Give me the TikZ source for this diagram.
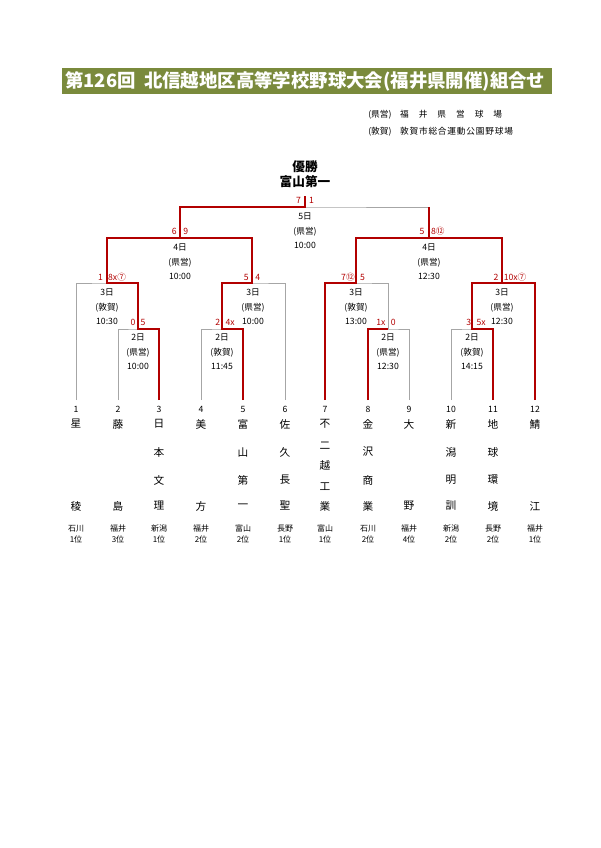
\documentclass[tikz,border=0pt]{standalone}
\usepackage{fontspec}
\setmainfont{Noto Sans CJK JP}
\begin{document}
\begin{tikzpicture}[x=0.75pt,y=-0.75pt,
  gl/.style={draw=gray!70,line width=0.5pt},
  rl/.style={draw=red!70!black,line width=1.8pt},
  sc/.style={text=red!70!black,font=\fontsize{6.5}{7}\selectfont,inner sep=0pt},
  info/.style={font=\fontsize{6.5}{7}\selectfont,inner sep=0pt},
  nm/.style={font=\fontsize{8}{8}\selectfont,inner sep=0pt},
  pf/.style={font=\fontsize{6}{7}\selectfont,inner sep=0pt,align=center}]
\useasboundingbox (0,0) rectangle (600,848);
\fill[fill={rgb,255:red,122;green,138;blue,60}] (62,68) rectangle (552,94);
\node[text=white,font=\bfseries\fontsize{13.8}{14}\selectfont,anchor=west,inner sep=0pt] (title) at (65,81) {第126回\ \ 北信越地区高等学校野球大会(福井県開催)組合せ};
\node[info,anchor=west] (v1) at (368,115) {(県営)\quad 福\hspace{7.5pt}井\hspace{7.5pt}県\hspace{7.5pt}営\hspace{7.5pt}球\hspace{7.5pt}場};
\node[info,anchor=west] (v2) at (368,132) {(敦賀)\quad 敦\hspace{0.6pt}賀\hspace{0.6pt}市\hspace{0.6pt}総\hspace{0.6pt}合\hspace{0.6pt}運\hspace{0.6pt}動\hspace{0.6pt}公\hspace{0.6pt}園\hspace{0.6pt}野\hspace{0.6pt}球\hspace{0.6pt}場};
\foreach \i/\x in {1/76,2/118,3/159,4/201,5/243,6/285,7/325,8/368,9/409,10/451,11/493,12/535}{
  \coordinate (L\i) at (\x,400);
  \node[info] (n\i) at (\x,409) {\i};
}
\coordinate (A) at (138,329); \coordinate (B) at (222,329);
\coordinate (C) at (388,329); \coordinate (D) at (472,329);
\coordinate (E) at (107,283); \coordinate (F) at (252,283);
\coordinate (G) at (356,283); \coordinate (H) at (502,283);
\coordinate (I) at (180,238); \coordinate (J) at (429,238);
\coordinate (K) at (305,207); \coordinate (T) at (305,196);
\draw[gl] (L2) |- (A) -- (A -| L3);
\draw[gl] (L4) |- (B) -- (B -| L5);
\draw[gl] (L9) |- (C) -- (C -| L8);
\draw[gl] (L10) |- (D) -- (D -| L11);
\draw[gl] (L1) |- (E) -- (E -| A);
\draw[gl] (L6) |- (F) -- (F -| B);
\draw[gl] (C) |- (G) -- (G -| L7);
\draw[gl] (D) |- (H) -- (H -| L12);
\draw[gl] (E) |- (I) -- (I -| F);
\draw[gl] (G) |- (J) -- (J -| H);
\draw[gl] (I) |- (K) -- (K -| J);
\draw[rl] (L3) |- (A) |- (E) |- (I);
\draw[rl] (L5) |- (B) |- (F) |- (I) |- (K) -- (T);
\draw[rl] (L8) |- (C);
\draw[rl] (L7) |- (G) |- (J);
\draw[rl] (L11) |- (D) |- (H);
\draw[rl] (L12) |- (H) |- (J) -- (J |- K);
\node[sc] (s1) at (305,200) {7\hspace{6pt}1};
\node[sc] (s2) at (180,231) {6\hspace{5pt}9};
\node[sc] (s3) at (432,231) {5\hspace{5pt}8⑫};
\node[sc] (s4) at (112,277) {1\hspace{4pt}8x⑦};
\node[sc] (s5) at (252,277) {5\hspace{5pt}4};
\node[sc] (s6) at (353,277) {7⑫\hspace{4pt}5};
\node[sc] (s7) at (510,277) {2\hspace{4pt}10x⑦};
\node[sc] (s8) at (138,322) {0\hspace{4pt}5};
\node[sc] (s9) at (225,322) {2\hspace{4pt}4x};
\node[sc] (s10) at (386,322) {1x\hspace{4pt}0};
\node[sc] (s11) at (476,322) {3\hspace{4pt}5x};
\node[info,align=center] (m5) at (305,231) {5日\\[4pt](県営)\\[4pt]10:00};
\node[info,align=center] (m4a) at (180,262) {4日\\[4pt](県営)\\[4pt]10:00};
\node[info,align=center] (m4b) at (429,262) {4日\\[4pt](県営)\\[4pt]12:30};
\node[info,align=center] (m3a) at (107,307) {3日\\[4pt](敦賀)\\[4pt]10:30};
\node[info,align=center] (m3b) at (253,307) {3日\\[4pt](県営)\\[4pt]10:00};
\node[info,align=center] (m3c) at (356,307) {3日\\[4pt](敦賀)\\[4pt]13:00};
\node[info,align=center] (m3d) at (502,307) {3日\\[4pt](県営)\\[4pt]12:30};
\node[info,align=center] (m2a) at (138,352) {2日\\[4pt](県営)\\[4pt]10:00};
\node[info,align=center] (m2b) at (222,352) {2日\\[4pt](敦賀)\\[4pt]11:45};
\node[info,align=center] (m2c) at (388,352) {2日\\[4pt](県営)\\[4pt]12:30};
\node[info,align=center] (m2d) at (472,352) {2日\\[4pt](敦賀)\\[4pt]14:15};
\node[font=\bfseries\fontsize{9.5}{11}\selectfont,align=center,inner sep=0pt] (champ) at (305,174) {優勝\\富山第一};
\foreach \x/\a/\b/\c/\d in {159/日/本/文/理,243/富/山/第/一,285/佐/久/長/聖,368/金/沢/商/業,451/新/潟/明/訓,493/地/球/環/境}{
  \node[nm] at (\x,424) {\a};
  \node[nm] at (\x,452) {\b};
  \node[nm] at (\x,480) {\c};
  \node[nm] at (\x,506) {\d};
}
\foreach \x/\a/\d in {76/星/稜,118/藤/島,201/美/方,409/大/野,535/鯖/江}{
  \node[nm] at (\x,424) {\a};
  \node[nm] at (\x,506) {\d};
}
\foreach \y/\t in {424/不,446/二,465/越,487/工,506/業}{\node[nm] at (325,\y) {\t};}
\foreach \x/\p/\r in {76/石川/1,118/福井/3,159/新潟/1,201/福井/2,243/富山/2,285/長野/1,325/富山/1,368/石川/2,409/福井/4,451/新潟/2,493/長野/2,535/福井/1}{
  \node[pf] at (\x,534) {\p\\[1pt]\r 位};
}
\end{tikzpicture}
\end{document}
